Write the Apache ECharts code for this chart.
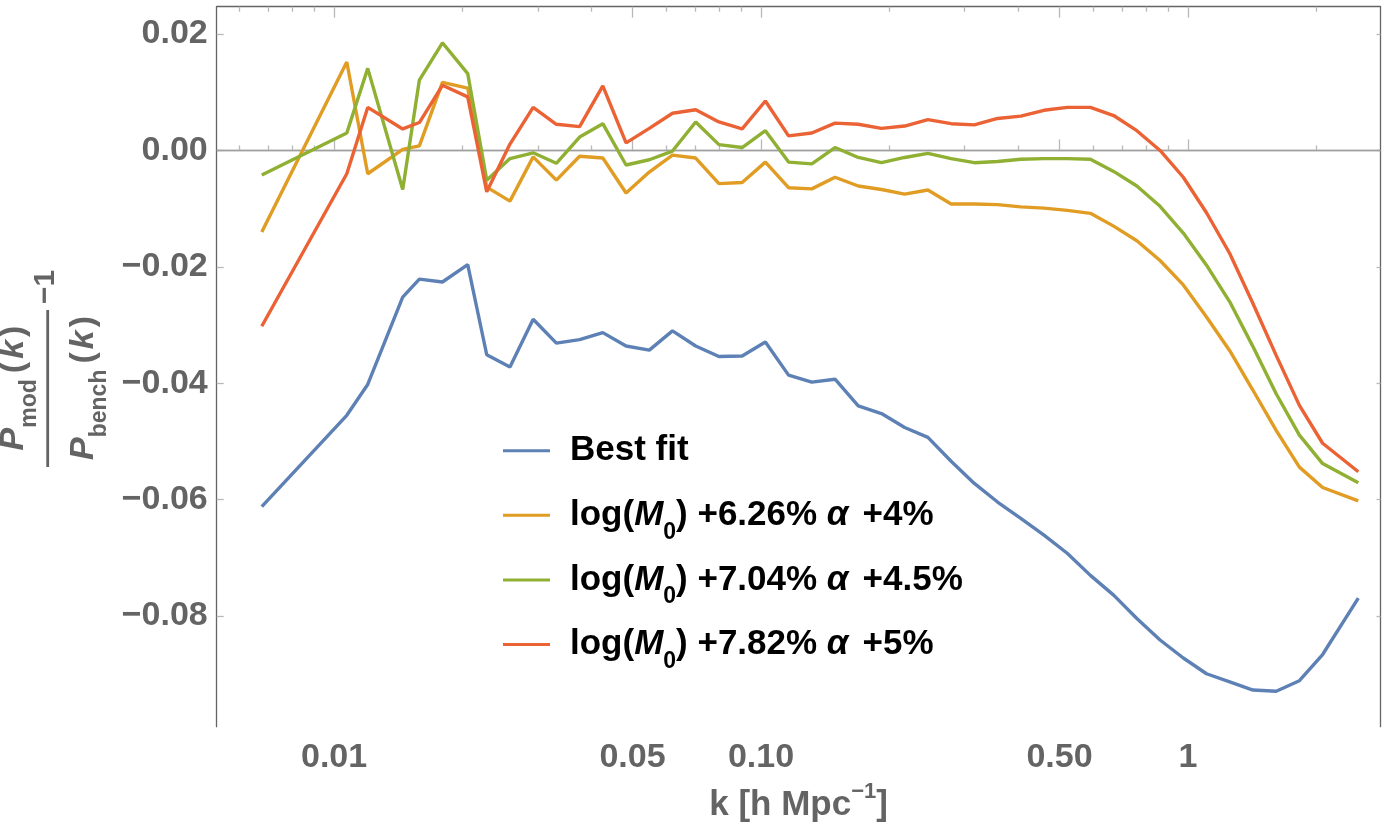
<!DOCTYPE html>
<html>
<head>
<meta charset="utf-8">
<script src="https://cdn.jsdelivr.net/npm/echarts@6/dist/echarts.min.js"></script>
<style>
  html, body { margin: 0; padding: 0; background: #fff; }
  #chart { width: 1382px; height: 838px; }
</style>
</head>
<body>
<div id="chart"></div>
<script>
// ---- data ----
const kValues = [0.006771, 0.01071, 0.01199, 0.01448, 0.01584, 0.01794, 0.02056,
  0.02278, 0.02582, 0.02926, 0.03316, 0.03759, 0.04260, 0.04829, 0.05473, 0.06203,
  0.07030, 0.07969, 0.09031, 0.10237, 0.11601, 0.13149, 0.14904, 0.16892, 0.19145,
  0.21699, 0.24593, 0.27874, 0.31591, 0.35805, 0.40581, 0.45994, 0.52130, 0.59082,
  0.66962, 0.75893, 0.86015, 0.97495, 1.1050, 1.2524, 1.4195, 1.6088, 1.8235,
  2.0667, 2.5054];

const bestFit = [-0.0612, -0.0455, -0.0402, -0.0252, -0.0221, -0.0226, -0.0196,
  -0.0351, -0.0372, -0.0290, -0.0331, -0.0325, -0.0313, -0.0336, -0.0343, -0.0310,
  -0.0336, -0.0354, -0.0353, -0.0329, -0.0386, -0.0398, -0.0393, -0.0439, -0.0452,
  -0.0476, -0.0493, -0.0534, -0.0572, -0.0604, -0.0632, -0.0661, -0.0692, -0.0730,
  -0.0764, -0.0804, -0.0841, -0.0872, -0.0899, -0.0913, -0.0927, -0.0929, -0.0911,
  -0.0866, -0.0769];

const fitM626 = [-0.0140, 0.0152, -0.0040, 0.0002, 0.0008, 0.0117, 0.0107,
  -0.0063, -0.0087, -0.0011, -0.0051, -0.0010, -0.0013, -0.0073, -0.0037, -0.0008,
  -0.0013, -0.0057, -0.0055, -0.0020, -0.0064, -0.0066, -0.0046, -0.0061, -0.0067,
  -0.0075, -0.0068, -0.0092, -0.0092, -0.0093, -0.0097, -0.0099, -0.0103, -0.0108,
  -0.0130, -0.0155, -0.0189, -0.0231, -0.0286, -0.0344, -0.0412, -0.0481, -0.0544,
  -0.0579, -0.0602];

const fitM704 = [-0.0042, 0.0030, 0.0141, -0.0067, 0.0121, 0.0185, 0.0132,
  -0.0051, -0.0014, -0.0004, -0.0022, 0.0023, 0.0046, -0.0025, -0.0016, -0.0001,
  0.0049, 0.0010, 0.0005, 0.0034, -0.0020, -0.0023, 0.0005, -0.0012, -0.0021,
  -0.0012, -0.0005, -0.0014, -0.0021, -0.0019, -0.0015, -0.0014, -0.0014, -0.0015,
  -0.0036, -0.0061, -0.0096, -0.0142, -0.0197, -0.0260, -0.0337, -0.0418, -0.0489,
  -0.0538, -0.0571];

const fitM782 = [-0.0302, -0.0040, 0.0074, 0.0037, 0.0048, 0.0112, 0.0092,
  -0.0071, 0.0011, 0.0074, 0.0045, 0.0041, 0.0111, 0.0013, 0.0038, 0.0064,
  0.0070, 0.0049, 0.0037, 0.0085, 0.0025, 0.0030, 0.0047, 0.0045, 0.0038,
  0.0042, 0.0053, 0.0046, 0.0044, 0.0055, 0.0059, 0.0069, 0.0074, 0.0074,
  0.0060, 0.0034, 0.0000, -0.0046, -0.0107, -0.0177, -0.0263, -0.0352, -0.0438,
  -0.0503, -0.0552];

const seriesNames = ['Best fit', 'log(M0) +6.26% α +4%', 'log(M0) +7.04% α +4.5%', 'log(M0) +7.82% α +5%'];
const seriesColors = ['#5E81B5', '#E19C24', '#8FB032', '#EB6235'];

const xMajorTicks = [0.01, 0.05, 0.1, 0.5, 1];
const xTickLabels = ['0.01', '0.05', '0.10', '0.50', '1'];
const xMinorTicks = [0.006, 0.007, 0.008, 0.009, 0.02, 0.03, 0.04, 0.06, 0.07, 0.08, 0.09,
  0.2, 0.3, 0.4, 0.6, 0.7, 0.8, 0.9, 2];
const yTicks = [-0.08, -0.06, -0.04, -0.02, 0, 0.02];
const yTickLabels = ['\u22120.08', '\u22120.06', '\u22120.04', '\u22120.02', '0.00', '0.02'];

const xMin = 0.00531, xMax = 2.824;
const yMin = -0.0990, yMax = 0.0247;

// ---- chart ----
const FONT = 'Liberation Sans, Arial, Helvetica, sans-serif';
const GRAY = '#646464';
const TICK = '#b8b8b8';

const chart = echarts.init(document.getElementById('chart'), null, { renderer: 'canvas' });

function pairs(vals) { return kValues.map((k, i) => [k, vals[i]]); }
const allSeries = [bestFit, fitM626, fitM704, fitM782];

function xLabel(v) {
  let best = 0, bd = Infinity;
  xMajorTicks.forEach((t, i) => {
    const d = Math.abs(Math.log10(v) - Math.log10(t));
    if (d < bd) { bd = d; best = i; }
  });
  return xTickLabels[best];
}
function yLabel(v) {
  let best = 0, bd = Infinity;
  yTicks.forEach((t, i) => { const d = Math.abs(v - t); if (d < bd) { bd = d; best = i; } });
  return yTickLabels[best];
}

const legendRich = {
  n: { fontFamily: FONT, fontWeight: 'bold', fontSize: 35, lineHeight: 36, color: '#000' },
  i: { fontFamily: FONT, fontWeight: 'bold', fontStyle: 'italic', fontSize: 35, lineHeight: 36, color: '#000' },
  s: { fontFamily: FONT, fontWeight: 'bold', fontSize: 23, lineHeight: 21, padding: [34, 0, 0, 0], color: '#000' },
  g: { fontFamily: FONT, fontWeight: 'bold', fontSize: 35, lineHeight: 36, width: 14 }
};
function legendFormat(name) {
  const m = name.match(/^log\(M0\) (\+[\d.]+%) α (\+[\d.]+%)$/);
  if (!m) return '{n|' + name + '}{s| }';
  return '{n|log(}{i|M}{s|0}{n|) ' + m[1] + ' }{i|α}{g|}{n|' + m[2] + '}';
}

const xBase = { type: 'log', logBase: 10, min: xMin, max: xMax, gridIndex: 0,
  splitLine: { show: false }, minorTick: { show: false }, minorSplitLine: { show: false } };

const option = {
  animation: false,
  backgroundColor: '#ffffff',
  grid: { left: 216.7, right: 1.5, top: 6.7, bottom: 111.3, containLabel: false },
  xAxis: [
    Object.assign({}, xBase, {
      position: 'bottom',
      axisLine: { show: true, lineStyle: { color: GRAY, width: 1.3 } },
      axisTick: { show: true, inside: true, length: 11, customValues: xMajorTicks, lineStyle: { color: TICK, width: 1.3 } },
      axisLabel: { show: true, customValues: xMajorTicks, formatter: xLabel, margin: 14,
        fontFamily: FONT, fontWeight: 'bold', fontSize: 34, color: GRAY },
      name: '{m|k [h Mpc}{p|\u22121}{m|]}',
      nameLocation: 'middle',
      nameGap: 61,
      nameTextStyle: {
        rich: {
          m: { fontFamily: FONT, fontWeight: 'bold', fontSize: 35, lineHeight: 36, color: GRAY },
          p: { fontFamily: FONT, fontWeight: 'bold', fontSize: 22, lineHeight: 21, padding: [0, 0, 27, 0], color: GRAY }
        }
      }
    }),
    Object.assign({}, xBase, {
      position: 'bottom',
      axisLine: { show: false },
      axisTick: { show: true, inside: true, length: 5, customValues: xMinorTicks, lineStyle: { color: TICK, width: 1.3 } },
      axisLabel: { show: false }
    }),
    Object.assign({}, xBase, {
      position: 'top',
      axisLine: { show: true, lineStyle: { color: GRAY, width: 1.3 } },
      axisTick: { show: true, inside: true, length: 11, customValues: xMajorTicks, lineStyle: { color: TICK, width: 1.3 } },
      axisLabel: { show: false }
    }),
    Object.assign({}, xBase, {
      position: 'top',
      axisLine: { show: false },
      axisTick: { show: true, inside: true, length: 5, customValues: xMinorTicks, lineStyle: { color: TICK, width: 1.3 } },
      axisLabel: { show: false }
    })
  ],
  yAxis: [
    {
      type: 'value', min: yMin, max: yMax, position: 'left', gridIndex: 0,
      axisLine: { show: true, lineStyle: { color: GRAY, width: 1.3 } },
      axisTick: { show: true, inside: true, length: 7, customValues: yTicks, lineStyle: { color: TICK, width: 1.3 } },
      axisLabel: { show: true, customValues: yTicks, formatter: yLabel, margin: 9,
        fontFamily: FONT, fontWeight: 'bold', fontSize: 34, color: GRAY },
      splitLine: { show: false }
    },
    {
      type: 'value', min: yMin, max: yMax, position: 'right', gridIndex: 0,
      axisLine: { show: true, lineStyle: { color: GRAY, width: 1.3 } },
      axisTick: { show: true, inside: true, length: 4, customValues: yTicks, lineStyle: { color: TICK, width: 1.3 } },
      axisLabel: { show: false },
      splitLine: { show: false }
    }
  ],
  legend: {
    show: true,
    orient: 'vertical',
    left: 503,
    top: 422.2,
    padding: 0,
    icon: 'rect',
    itemWidth: 47,
    itemHeight: 3,
    itemGap: 7.6,
    selectedMode: false,
    data: seriesNames,
    formatter: legendFormat,
    textStyle: { fontFamily: FONT, fontWeight: 'bold', fontSize: 35, color: '#000', padding: [0, 0, 0, 15], rich: legendRich }
  },
  series: allSeries.map((vals, si) => {
    const s = {
      name: seriesNames[si],
      type: 'line',
      xAxisIndex: 0,
      yAxisIndex: 0,
      data: pairs(vals),
      symbol: 'none',
      showSymbol: false,
      smooth: false,
      color: seriesColors[si],
      itemStyle: { color: seriesColors[si] },
      lineStyle: { color: seriesColors[si], width: 3.4 },
      z: 3 + si
    };
    if (si === 0) {
      s.markLine = {
        silent: true,
        symbol: ['none', 'none'],
        label: { show: false },
        lineStyle: { color: '#a0a0a0', width: 1.2, type: 'solid' },
        data: [{ yAxis: 0 }],
        z: 1
      };
    }
    return s;
  }),
  graphic: [
    {
      type: 'group',
      x: 47.7,
      y: 388,
      rotation: Math.PI / 2,
      children: [
        { type: 'line', shape: { x1: -79, y1: 0, x2: 78, y2: 0 }, style: { stroke: GRAY, lineWidth: 2.8 } },
        {
          type: 'text', x: 0, y: -34,
          style: {
            text: '{P|P}{s|mod}{n|(}{k|k}{n|)}',
            align: 'center', verticalAlign: 'middle',
            rich: {
              P: { fontFamily: FONT, fontWeight: 'bold', fontStyle: 'italic', fontSize: 34, lineHeight: 34, fill: GRAY },
              k: { fontFamily: FONT, fontWeight: 'bold', fontStyle: 'italic', fontSize: 34, lineHeight: 34, fill: GRAY, padding: [0, 3, 0, 3] },
              n: { fontFamily: FONT, fontWeight: 'bold', fontSize: 34, lineHeight: 34, fill: GRAY },
              s: { fontFamily: FONT, fontWeight: 'bold', fontSize: 23, lineHeight: 22, fill: GRAY, padding: [31, 6, 0, 0] }
            }
          }
        },
        {
          type: 'text', x: 0, y: 36,
          style: {
            text: '{P|P}{s|bench}{n|(}{k|k}{n|)}',
            align: 'center', verticalAlign: 'middle',
            rich: {
              P: { fontFamily: FONT, fontWeight: 'bold', fontStyle: 'italic', fontSize: 34, lineHeight: 34, fill: GRAY },
              k: { fontFamily: FONT, fontWeight: 'bold', fontStyle: 'italic', fontSize: 34, lineHeight: 34, fill: GRAY, padding: [0, 3, 0, 3] },
              n: { fontFamily: FONT, fontWeight: 'bold', fontSize: 34, lineHeight: 34, fill: GRAY },
              s: { fontFamily: FONT, fontWeight: 'bold', fontSize: 23, lineHeight: 22, fill: GRAY, padding: [31, 6, 0, 0] }
            }
          }
        },
        {
          type: 'text', x: 101, y: -2,
          style: {
            text: '\u22121',
            align: 'center', verticalAlign: 'middle',
            fontFamily: FONT, fontWeight: 'bold', fontSize: 30, fill: GRAY
          }
        }
      ]
    }
  ]
};

chart.setOption(option);
</script>
</body>
</html>
